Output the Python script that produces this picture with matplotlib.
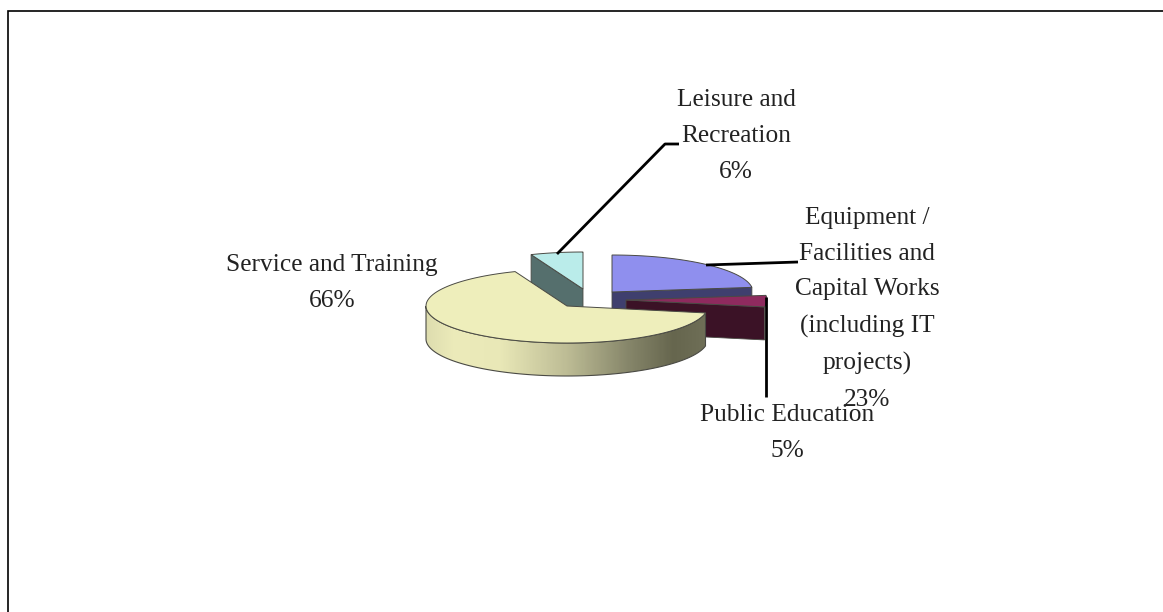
import numpy as np
import matplotlib
matplotlib.use("Agg")
import matplotlib.pyplot as plt
from matplotlib.colors import LinearSegmentedColormap
from matplotlib.patches import Polygon

categories = ["Equipment /\nFacilities and\nCapital Works\n(including IT\nprojects)",
              "Public Education", "Service and Training", "Leisure and\nRecreation"]
values = [23, 5, 66, 6]
top_colors = ["#8f8fee", "#8e2a5e", "#eeeebb", "#baecea"]
wall_colors = ["#3f3f6e", "#3b1226", None, "#556f6d"]

W, H = 1163, 612
fig = plt.figure(figsize=(W / 100, H / 100), dpi=100)
ax = fig.add_axes([0, 0, 1, 1])
ax.set_axis_off()

RX, RY, DEPTH = 141, 37, 33
centers = [(612, 292), (626, 300), (567, 306), (583, 289)]
EDGE = "#4a4a44"


def pt(c, deg, r=1.0):
    a = np.radians(deg)
    return c[0] + RX * r * np.sin(a), c[1] - RY * r * np.cos(a)


def arc(c, a0, a1, n=100):
    t = np.radians(np.linspace(a0, a1, n))
    return np.column_stack([c[0] + RX * np.sin(t), c[1] - RY * np.cos(t)])


cum = np.concatenate([[0], np.cumsum(values)]) * 3.6
spans = list(zip(cum[:-1], cum[1:]))

# draw order: back to front = teal, blue, purple, cream
for i in [3, 0, 1, 2]:
    c = centers[i]
    a0, a1 = spans[i]
    if i == 2:
        vis0, vis1 = a0, 270
        top = arc(c, vis0, vis1)
        bot = top[::-1] + [0, DEPTH]
        poly = Polygon(np.vstack([top, bot]), closed=True, fc="none", ec=EDGE, lw=0.8, zorder=3)
        ax.add_patch(poly)
        cmap = LinearSegmentedColormap.from_list(
            "side",
            [(0, "#deddaf"), (0.1, "#ecebba"), (0.26, "#e9e8b7"), (0.5, "#bdbc95"),
             (0.72, "#86866a"), (0.88, "#66664e"), (1, "#6f6f57")])
        im = ax.imshow(np.linspace(0, 1, 300)[None, :], cmap=cmap, aspect="auto",
                       extent=[c[0] - RX, c[0] + RX, c[1] + RY + DEPTH + 2, c[1] - 2], zorder=2)
        clip = Polygon(np.vstack([top, bot]), closed=True, transform=ax.transData)
        im.set_clip_path(clip)
    else:
        # the cut wall that faces the viewer
        a_wall = a0 if i == 3 else a1
        e = np.array(pt(c, a_wall))
        cc = np.array(c, float)
        off = np.array([0, DEPTH])
        ax.add_patch(Polygon([cc, e, e + off, cc + off], closed=True,
                             fc=wall_colors[i], ec=EDGE, lw=0.6, zorder=2))
    pts = np.vstack([[c], arc(c, a0, a1)])
    ax.add_patch(Polygon(pts, closed=True, fc=top_colors[i], ec=EDGE, lw=0.7, zorder=4))

# leader lines
line_kw = dict(color="black", lw=2, solid_capstyle="butt", zorder=5)
ax.plot([557, 665, 679], [254, 144, 144], **line_kw)
ax.plot([706, 798], [265, 262], **line_kw)
ax.plot([766, 766], [297, 397], **line_kw)

# labels
label_pos = [(867, 309), (787, 433), (332, 283), (736, 136)]
for name, v, (x, y) in zip(categories, values, label_pos):
    ax.text(x, y, f"{name}\n{v}%", ha="center", va="center", multialignment="center",
            family="Liberation Serif", fontsize=18.3, linespacing=1.81, color="#222222", zorder=6)

# frame: only left and top edges visible
ax.plot([7.5, 7.5, W], [H, 10.5, 10.5], color="black", lw=1.2, zorder=7, solid_joinstyle="miter")

ax.set_xlim(0, W)
ax.set_ylim(H, 0)
fig.savefig("out.png", dpi=100, facecolor="white")
